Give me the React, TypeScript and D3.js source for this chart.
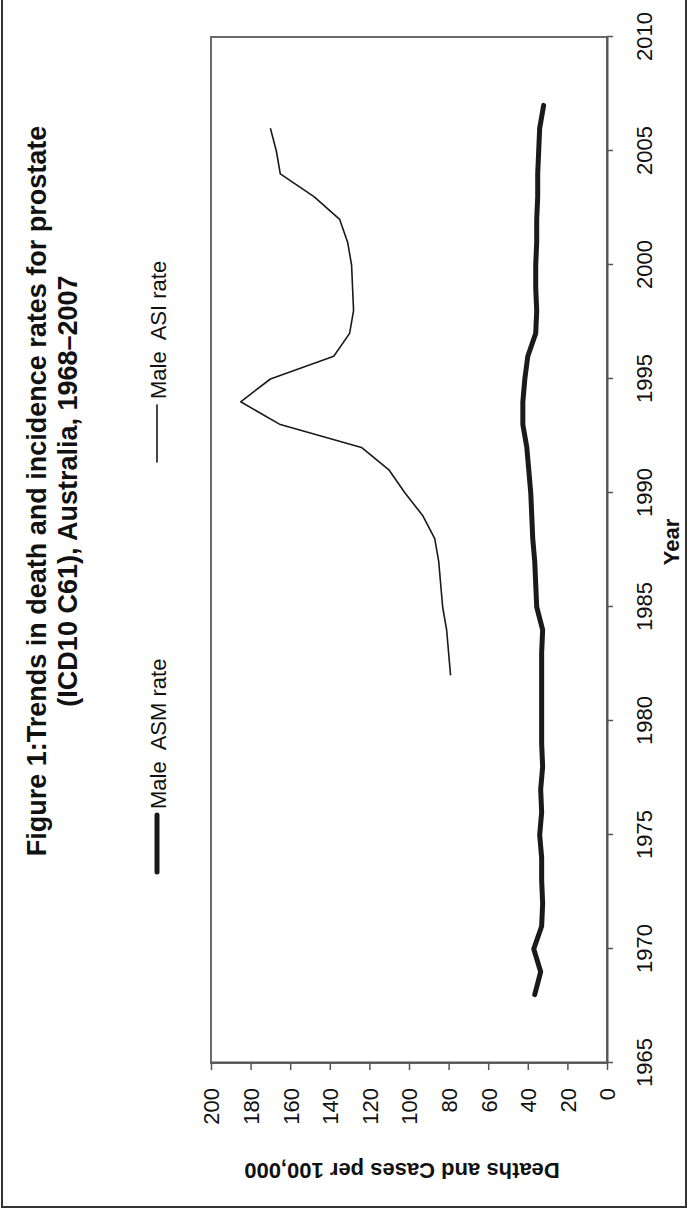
import * as d3 from "d3";
import React, { useEffect, useRef } from "react";

// years for each series
const asmYears = [
  1968, 1969, 1970, 1971, 1972, 1973, 1974, 1975, 1976, 1977, 1978, 1979, 1980, 1981,
  1982, 1983, 1984, 1985, 1986, 1987, 1988, 1989, 1990, 1991, 1992, 1993, 1994, 1995,
  1996, 1997, 1998, 1999, 2000, 2001, 2002, 2003, 2004, 2005, 2006, 2007,
];
// Male ASM rate (deaths per 100,000)
const asmRate = [
  36.5, 33.5, 37, 33, 32.5, 33, 33, 34, 33, 33.5, 32.5, 33, 33, 33,
  33, 33, 32.5, 35.5, 36, 36.5, 37.5, 38, 38.5, 39.5, 40.5, 42.5, 42.5, 41.5,
  40, 36, 35.5, 36, 36, 35.5, 35.5, 35, 35, 34.5, 34, 32,
];

const asiYears = [
  1982, 1983, 1984, 1985, 1986, 1987, 1988, 1989, 1990, 1991, 1992, 1993, 1994,
  1995, 1996, 1997, 1998, 1999, 2000, 2001, 2002, 2003, 2004, 2005, 2006,
];
// Male ASI rate (cases per 100,000)
const asiRate = [
  79, 80, 81, 83, 84, 85, 87, 93, 102, 110, 124, 165, 185,
  170, 138, 130, 128, 128.5, 129, 131, 135, 148, 165, 167, 170,
];

const yearTicks = [1965, 1970, 1975, 1980, 1985, 1990, 1995, 2000, 2005, 2010];
const valueTicks = [0, 20, 40, 60, 80, 100, 120, 140, 160, 180, 200];

const titleLines = [
  "Figure 1:Trends in death and incidence rates for prostate",
  "(ICD10 C61), Australia, 1968\u20132007",
];

const FONT = "'Liberation Sans', Arial, Helvetica, sans-serif";

function drawChart(node: SVGSVGElement) {
  const svg = d3.select(node);
  svg.selectAll("*").remove();

  // page frame
  svg
    .append("rect")
    .attr("x", 2)
    .attr("y", -2)
    .attr("width", 684)
    .attr("height", 1209)
    .attr("fill", "none")
    .attr("stroke", "#333")
    .attr("stroke-width", 2);

  // the chart is a landscape chart turned a quarter turn left
  const g = svg.append("g").attr("transform", "translate(0,1212) rotate(-90)");

  const x = d3.scaleLinear().domain([1965, 2010]).range([149, 1175]);
  const y = d3.scaleLinear().domain([0, 200]).range([607, 211]);

  // title
  titleLines.forEach((t, i) => {
    g.append("text")
      .attr("x", 721)
      .attr("y", 45.5 + i * 31)
      .attr("text-anchor", "middle")
      .attr("font-family", FONT)
      .attr("font-weight", "bold")
      .attr("font-size", 27)
      .attr("fill", "#111")
      .text(t);
  });

  // legend
  const legend = [
    { x0: 340, label: "Male  ASM rate", w: 5 },
    { x0: 750, label: "Male  ASI rate", w: 1.6 },
  ];
  legend.forEach(l => {
    g.append("line")
      .attr("x1", l.x0)
      .attr("x2", l.x0 + 57)
      .attr("y1", 157)
      .attr("y2", 157)
      .attr("stroke", "#1a1a1a")
      .attr("stroke-width", l.w)
      .attr("stroke-linecap", "round");
    g.append("text")
      .attr("x", l.x0 + 63)
      .attr("y", 166)
      .attr("font-family", FONT)
      .attr("font-size", 22)
      .attr("fill", "#111")
      .style("white-space", "pre")
      .text(l.label);
  });

  // plot frame
  g.append("rect")
    .attr("x", 149)
    .attr("y", 211)
    .attr("width", 1026)
    .attr("height", 396)
    .attr("fill", "none")
    .attr("stroke", "#6a6a6a")
    .attr("stroke-width", 2);

  // year axis
  const xAxis = g
    .append("g")
    .attr("transform", "translate(0,607)")
    .call(d3.axisBottom(x).tickValues(yearTicks).tickFormat(d3.format("d")).tickSize(6).tickSizeOuter(0));
  xAxis.select(".domain").attr("stroke", "#555").attr("stroke-width", 2);
  xAxis.selectAll(".tick line").attr("stroke", "#555").attr("stroke-width", 1.5);
  xAxis
    .selectAll(".tick text")
    .attr("y", 37)
    .attr("dy", "0.36em")
    .attr("font-family", FONT)
    .attr("font-size", 22)
    .attr("fill", "#111");

  // value axis
  const yAxis = g
    .append("g")
    .attr("transform", "translate(149,0)")
    .call(d3.axisLeft(y).tickValues(valueTicks).tickSize(7).tickSizeOuter(0));
  yAxis.select(".domain").attr("stroke", "#555").attr("stroke-width", 2);
  yAxis.selectAll(".tick line").attr("stroke", "#555").attr("stroke-width", 1.5);
  yAxis
    .selectAll(".tick text")
    .attr("x", -25)
    .attr("dy", "0.36em")
    .attr("font-family", FONT)
    .attr("font-size", 22)
    .attr("fill", "#111");

  // axis titles
  g.append("text")
    .attr("x", 670)
    .attr("y", 679)
    .attr("text-anchor", "middle")
    .attr("font-family", FONT)
    .attr("font-weight", "bold")
    .attr("font-size", 22)
    .attr("fill", "#111")
    .text("Year");
  g.append("text")
    .attr("transform", "translate(49,402) rotate(-90)")
    .attr("text-anchor", "middle")
    .attr("font-family", FONT)
    .attr("font-weight", "bold")
    .attr("font-size", 22)
    .attr("fill", "#111")
    .text("Deaths and Cases per 100,000");

  // lines
  const line = d3
    .line<[number, number]>()
    .x(d => x(d[0]))
    .y(d => y(d[1]));

  g.append("path")
    .datum(asiYears.map((yr, i) => [yr, asiRate[i]] as [number, number]))
    .attr("d", line)
    .attr("fill", "none")
    .attr("stroke", "#1a1a1a")
    .attr("stroke-width", 1.6)
    .attr("stroke-linejoin", "round");

  g.append("path")
    .datum(asmYears.map((yr, i) => [yr, asmRate[i]] as [number, number]))
    .attr("d", line)
    .attr("fill", "none")
    .attr("stroke", "#1a1a1a")
    .attr("stroke-width", 5)
    .attr("stroke-linejoin", "round")
    .attr("stroke-linecap", "round");
}

export default function App() {
  const ref = useRef<SVGSVGElement>(null);
  useEffect(() => {
    if (ref.current) drawChart(ref.current);
  }, []);
  return (
    <svg
      ref={ref}
      width={689}
      height={1212}
      style={{ position: "absolute", left: 0, top: 0, background: "#fff" }}
    />
  );
}
